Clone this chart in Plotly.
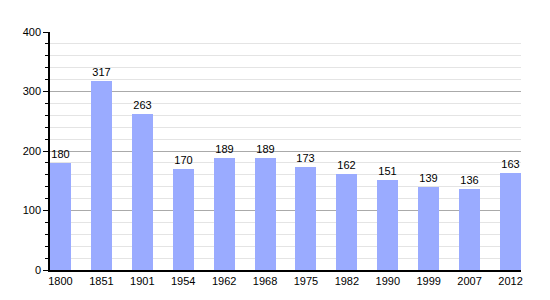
import plotly.graph_objects as go

years = ["1800", "1851", "1901", "1954", "1962", "1968", "1975", "1982", "1990", "1999", "2007", "2012"]
population = [180, 317, 263, 170, 189, 189, 173, 162, 151, 139, 136, 163]
y_ticks = [0, 100, 200, 300, 400]

idx = list(range(len(years)))
w = 0.513

fig = go.Figure()
fig.add_trace(go.Bar(
    x=idx, y=population, width=w,
    marker=dict(color="#9aabff", line=dict(width=0)),
    text=[str(v) for v in population], textposition="outside",
    textfont=dict(family="Liberation Sans, Arial", size=11, color="#000"),
    cliponaxis=False,
))
fig.update_layout(
    width=550, height=300,
    margin=dict(l=50, r=29, t=32, b=30),
    paper_bgcolor="white", plot_bgcolor="white",
    showlegend=False,
    font=dict(family="Liberation Sans, Arial", size=11, color="#000"),
    xaxis=dict(
        tickmode="array", tickvals=idx, ticktext=years,
        range=[-w / 2, len(years) - 1 + w / 2],
        showline=True, linecolor="#000", linewidth=2,
        showgrid=False, ticks="", zeroline=False,
    ),
    yaxis=dict(
        range=[0, 400], tickmode="array", tickvals=y_ticks,
        showline=True, linecolor="#000", linewidth=1.5,
        showgrid=True, gridcolor="#aaaaaa", gridwidth=1,
        ticks="outside", ticklen=5, tickcolor="#000",
        zeroline=False,
        minor=dict(dtick=20, showgrid=True, gridcolor="#e4e4e4", gridwidth=1,
                   ticks="outside", ticklen=3, tickcolor="#000"),
    ),
    bargap=0,
)
fig.write_html("out.html")
